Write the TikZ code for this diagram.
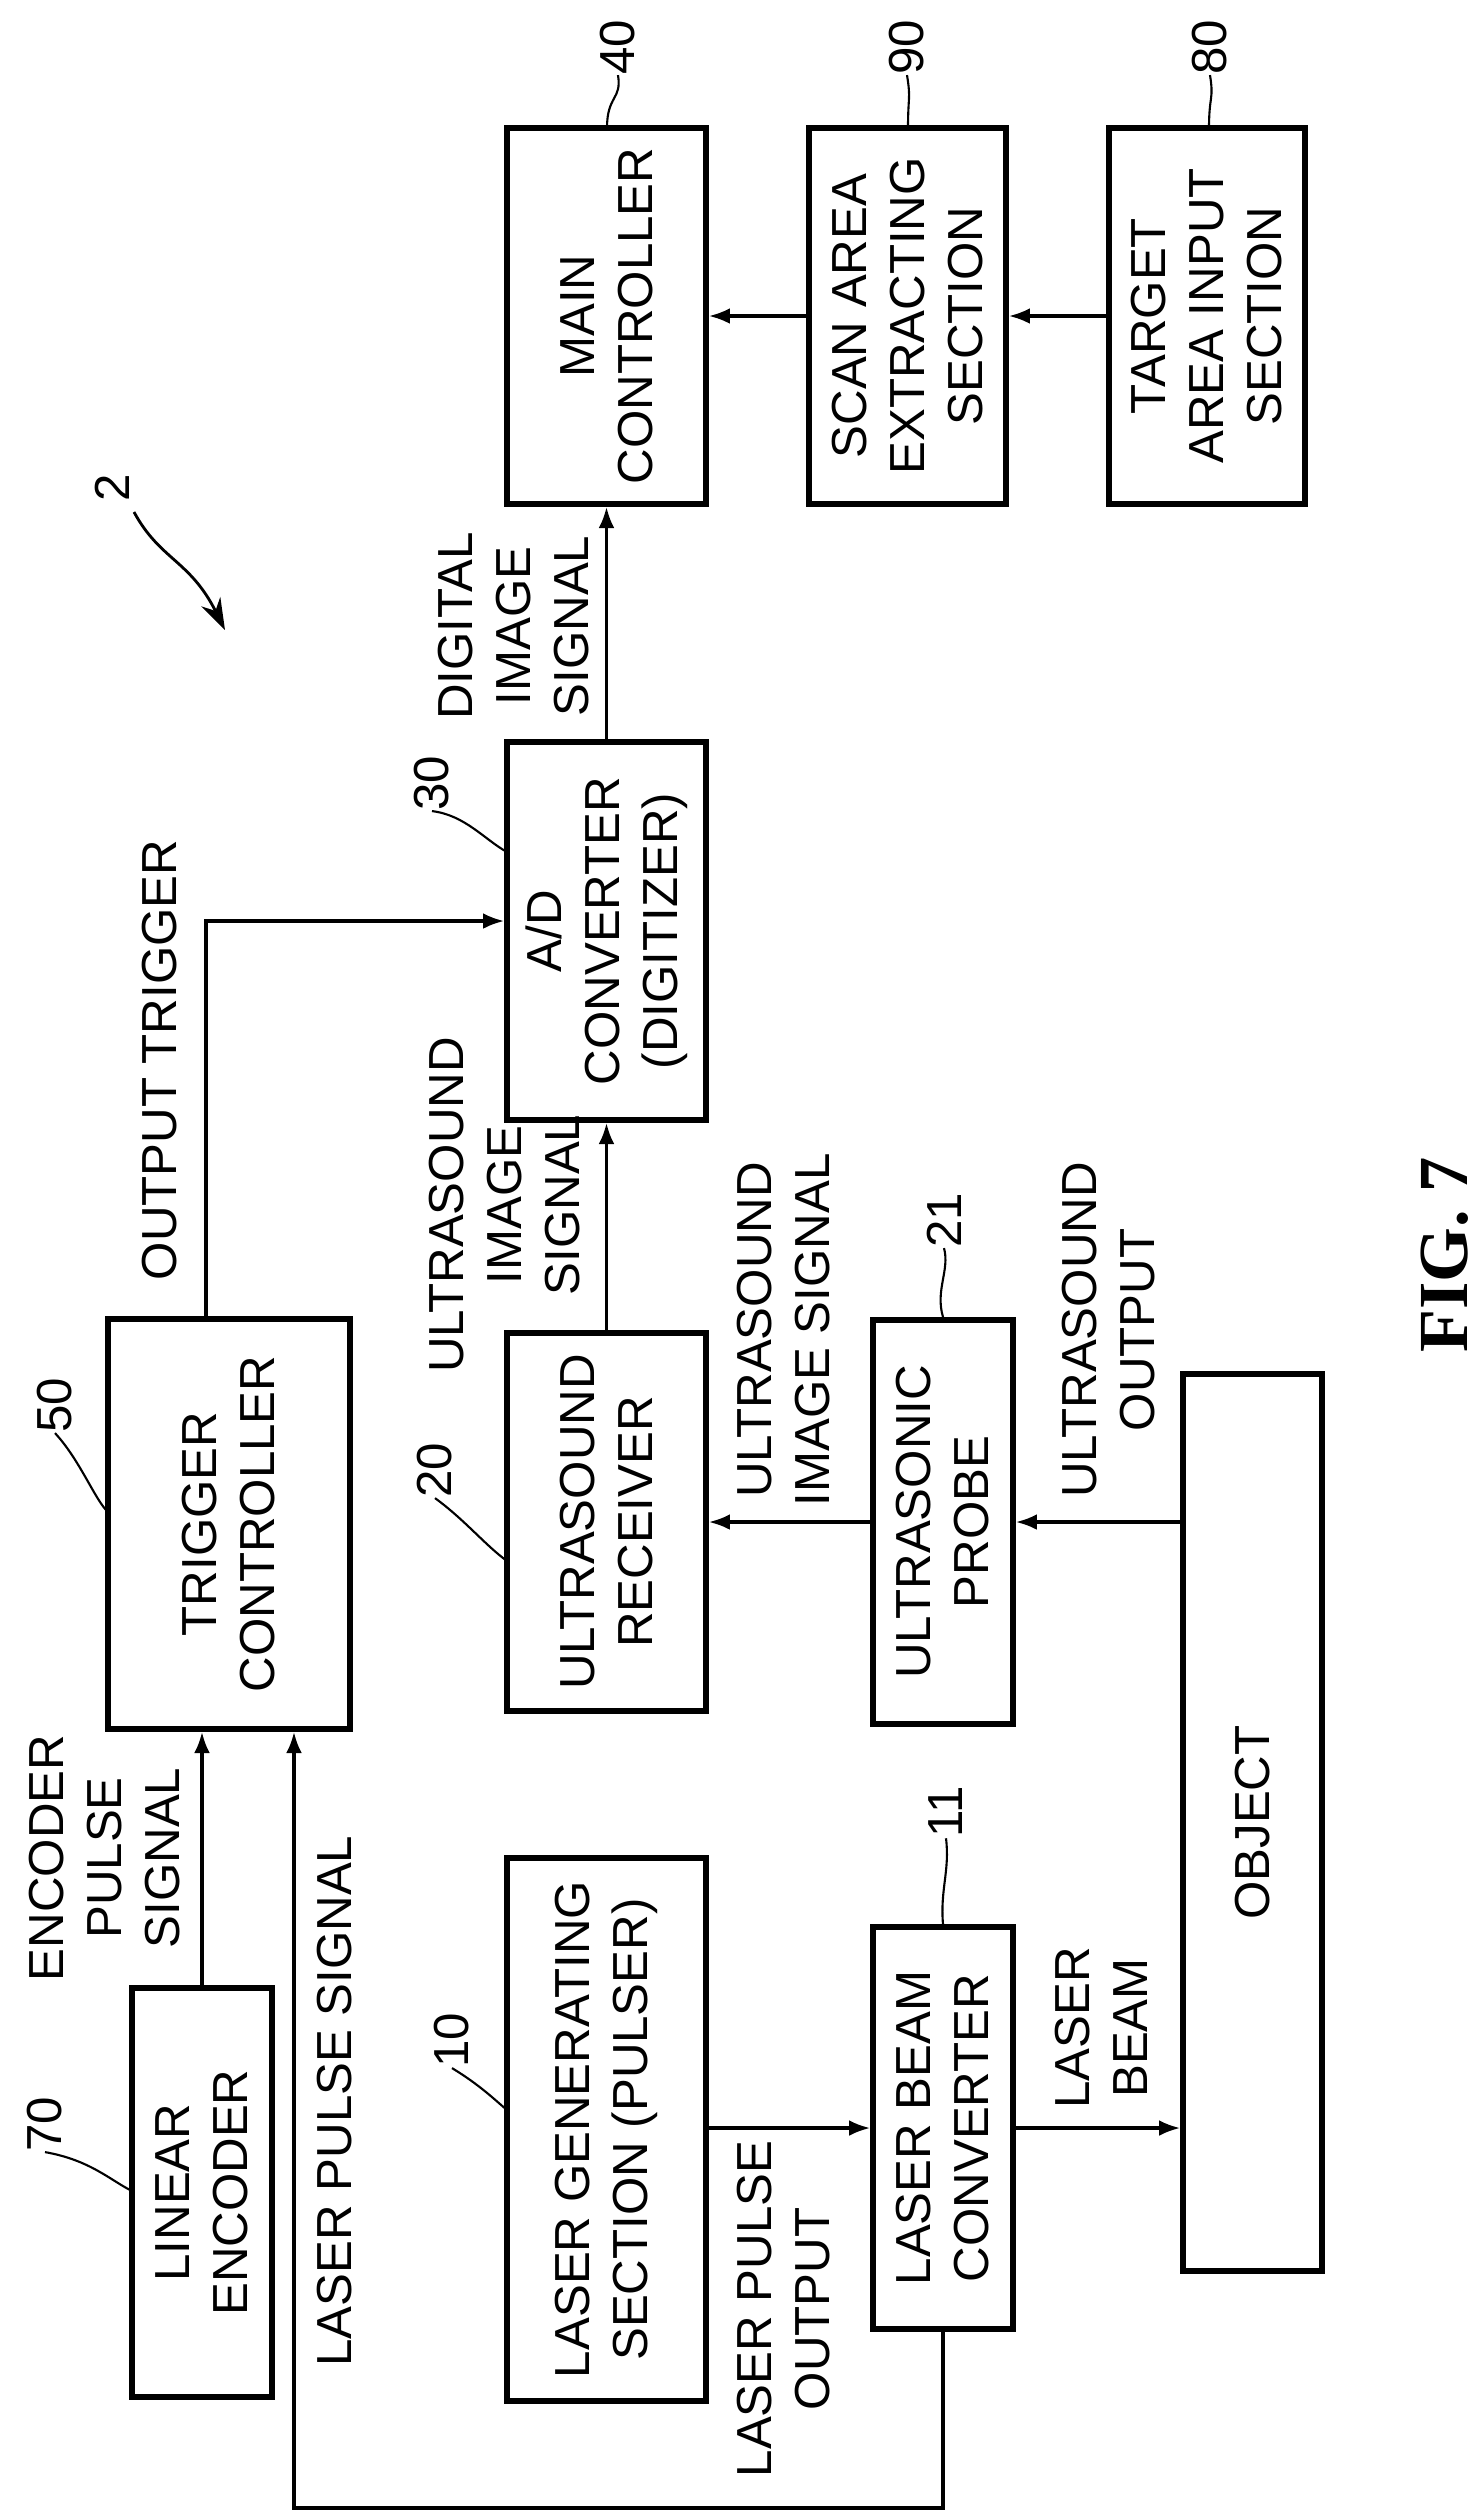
\documentclass[tikz,border=0pt]{standalone}
\usepackage{fontspec}
\setmainfont{Liberation Sans}
\newfontfamily\figfont{Liberation Serif}
\usetikzlibrary{arrows.meta}
\tikzset{
  blk/.style={draw, line width=1.6pt, rotate=90, align=center, inner sep=0pt,
    font=\fontsize{14}{16.5}\selectfont},
  lbl/.style={rotate=90, align=center, inner sep=0pt, font=\fontsize{14}{16.5}\selectfont},
  ref/.style={rotate=90, inner sep=0pt, font=\fontsize{14}{16}\selectfont},
  sig/.style={line width=0.9pt, -{Latex[length=6pt,width=4.5pt]}},
  lead/.style={line width=0.6pt}
}
\begin{document}
\begin{tikzpicture}[x=0.01cm, y=-0.01cm]
  \useasboundingbox (0,0) rectangle (1482,2517);
  % blocks (width = extent along y, height = extent along x)
  \node[blk, minimum width=3.76cm, minimum height=1.99cm] (main) at (606.5,316) {MAIN\\CONTROLLER};
  \node[blk, minimum width=3.76cm, minimum height=1.97cm] (scan) at (907.5,316) {SCAN AREA\\EXTRACTING\\SECTION};
  \node[blk, minimum width=3.76cm, minimum height=1.96cm] (target) at (1207,316) {TARGET\\AREA INPUT\\SECTION};
  \node[blk, minimum width=3.78cm, minimum height=1.99cm] (ad) at (606.5,931) {A/D\\CONVERTER\\(DIGITIZER)};
  \node[blk, minimum width=4.10cm, minimum height=2.42cm] (trig) at (229,1524) {TRIGGER\\CONTROLLER};
  \node[blk, minimum width=3.78cm, minimum height=1.99cm] (recv) at (606.5,1522) {ULTRASOUND\\RECEIVER};
  \node[blk, minimum width=4.04cm, minimum height=1.40cm] (probe) at (943,1522) {ULTRASONIC\\PROBE};
  \node[blk, minimum width=8.97cm, minimum height=1.39cm] (object) at (1252.5,1822.5) {OBJECT};
  \node[blk, minimum width=4.09cm, minimum height=1.40cm] (enc) at (202,2192.5) {LINEAR\\ENCODER};
  \node[blk, minimum width=5.43cm, minimum height=1.99cm] (lgen) at (606.5,2129.5) {LASER GENERATING\\SECTION (PULSER)};
  \node[blk, minimum width=4.02cm, minimum height=1.40cm] (conv) at (943,2128) {LASER BEAM\\CONVERTER};

  % signals
  \draw[sig] (ad) -- (main);
  \draw[sig] (scan) -- (main);
  \draw[sig] (target) -- (scan);
  \draw[sig] (recv) -- (ad);
  \draw[sig] (probe) -- (recv);
  \draw[sig] (object.north |- probe) -- (probe);
  \draw[sig] (lgen.south |- conv) -- (conv);
  \draw[sig] (conv) -- (conv -| object.north);
  \draw[sig] (enc.east) -- (enc.east |- trig.west);
  \coordinate (ot) at (206,921);
  \draw[sig] (ot |- trig.east) -- (ot) -- (ot -| ad.north);
  \coordinate (lp) at (294,2508);
  \draw[sig] (conv.west) |- (lp) -- (lp |- trig.west);

  % signal labels
  \node[lbl] (l1) at (514,626) {DIGITAL\\IMAGE\\SIGNAL};
  \node[lbl] (l2) at (160,1060) {OUTPUT TRIGGER};
  \node[lbl] (l3) at (505,1205) {ULTRASOUND\\IMAGE\\SIGNAL};
  \node[lbl] (l4) at (784,1330) {ULTRASOUND\\IMAGE SIGNAL};
  \node[lbl] (l5) at (1109,1330) {ULTRASOUND\\OUTPUT};
  \node[lbl] (l6) at (105,1858) {ENCODER\\PULSE\\SIGNAL};
  \node[lbl] (l7) at (335,2101) {LASER PULSE SIGNAL};
  \node[lbl] (l8) at (784,2309) {LASER PULSE\\OUTPUT};
  \node[lbl] (l9) at (1101,2028) {LASER\\BEAM};

  % reference numerals
  \node[ref] (r40) at (618,47) {40};
  \node[ref] (r90) at (907,47) {90};
  \node[ref] (r80) at (1210,47) {80};
  \draw[lead] (607,128) .. controls (607,95) and (622,100) .. (r40.west);
  \draw[lead] (908,128) .. controls (908,95) and (911,100) .. (r90.west);
  \draw[lead] (1209,128) .. controls (1209,95) and (1214,100) .. (r80.west);
  \node[ref] (r2) at (112,488) {2};
  \draw[line width=0.8pt, -{Stealth[length=9pt,width=6pt]}] (134,512) .. controls (160,560) and (190,560) .. (225,630);
  \node[ref] (r30) at (432,783) {30};
  \draw[lead] (r30.west) .. controls (465,815) and (485,840) .. (507,852);
  \node[ref] (r21) at (944,1220) {21};
  \draw[lead] (r21.west) .. controls (950,1270) and (935,1290) .. (probe.east);
  \node[ref] (r50) at (55,1405) {50};
  \draw[lead] (r50.west) .. controls (80,1460) and (95,1500) .. (108,1512);
  \node[ref] (r20) at (435,1470) {20};
  \draw[lead] (r20.west) .. controls (465,1520) and (485,1545) .. (507,1561);
  \node[ref] (r70) at (45,2124) {70};
  \draw[lead] (r70.west) .. controls (90,2160) and (110,2180) .. (132,2191);
  \node[ref] (r10) at (452,2040) {10};
  \draw[lead] (r10.west) .. controls (480,2085) and (495,2100) .. (507,2110);
  \node[ref] (r11) at (946,1812) {11};
  \draw[lead] (r11.west) .. controls (950,1870) and (940,1890) .. (conv.east);

  \node[rotate=90, inner sep=0pt, font=\figfont\bfseries\fontsize{20}{22}\selectfont] (fig) at (1445,1255) {FIG. 7};
\end{tikzpicture}
\end{document}
